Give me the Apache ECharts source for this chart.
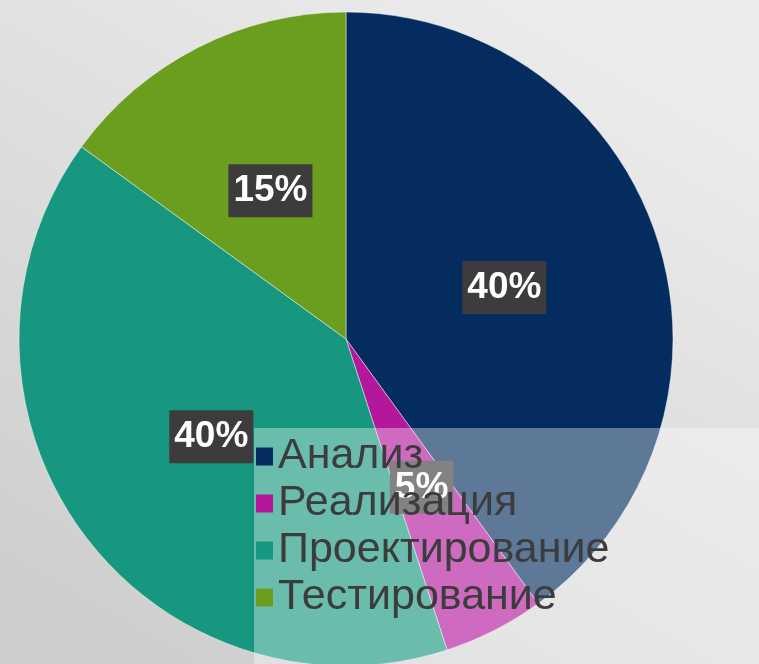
<!DOCTYPE html>
<html>
<head>
<meta charset="utf-8">
<script src="https://cdn.jsdelivr.net/npm/echarts@6/dist/echarts.min.js"></script>
<style>
  html, body { margin: 0; padding: 0; }
  #chart { width: 759px; height: 664px; }
</style>
</head>
<body>
<div id="chart"></div>
<script>
// stages of the project, clockwise from 12 o'clock
const stages = ['Анализ', 'Реализация', 'Проектирование', 'Тестирование'];
const shares = [40, 5, 40, 15];
const stageColors = ['#042c5f', '#b3179c', '#17977f', '#6b9e1f'];

const chart = echarts.init(document.getElementById('chart'));

chart.setOption({
  backgroundColor: {
    type: 'linear',
    x: 0.7, y: 0, x2: 0.2, y2: 1,
    colorStops: [
      { offset: 0, color: '#ececec' },
      { offset: 1, color: '#cecece' },
    ],
  },
  animation: false,
  legend: {
    orient: 'vertical',
    left: 256,
    top: 433,
    padding: 0,
    itemGap: 0,
    itemWidth: 17,
    itemHeight: 18,
    icon: 'rect',
    z: 20,
    itemStyle: { borderWidth: 0 },
    textStyle: {
      fontFamily: 'Liberation Sans, Arial, sans-serif',
      fontSize: 43,
      lineHeight: 47,
      color: '#3c3c3c',
    },
    data: stages,
  },
  graphic: [
    {
      // translucent panel behind the legend
      type: 'rect',
      z: 10,
      shape: { x: 254, y: 428, width: 505, height: 236 },
      style: { fill: 'rgba(255,255,255,0.36)' },
    },
  ],
  series: [
    {
      type: 'pie',
      center: [346, 339],
      radius: 327,
      startAngle: 90,
      clockwise: true,
      itemStyle: {
        borderColor: 'rgba(255,255,255,0.45)',
        borderWidth: 1,
      },
      label: {
        show: true,
        position: 'inside',
        formatter: '{c}%',
        fontFamily: 'Liberation Sans, Arial, sans-serif',
        fontWeight: 'bold',
        fontSize: 37,
        color: '#ffffff',
        backgroundColor: '#3d3b3c',
        padding: [8, 5],
      },
      labelLine: { show: false },
      emphasis: { disabled: true },
      data: stages.map((name, i) => ({
        name,
        value: shares[i],
        itemStyle: { color: stageColors[i] },
      })),
    },
  ],
});
</script>
</body>
</html>
